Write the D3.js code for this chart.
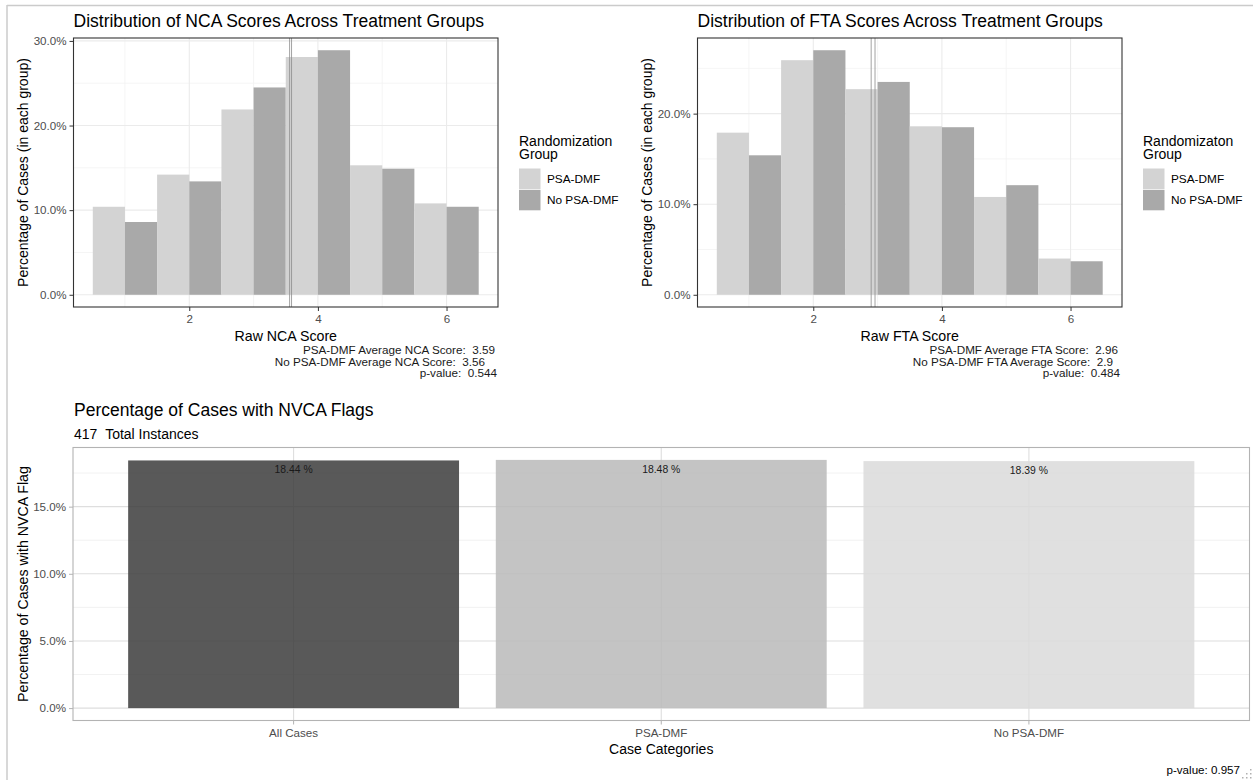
<!DOCTYPE html>
<html>
<head>
<meta charset="utf-8">
<script src="https://cdn.jsdelivr.net/npm/d3@7"></script>
<style>
  html, body { margin: 0; padding: 0; background: #ffffff; }
  svg { display: block; font-family: "Liberation Sans", Arial, sans-serif; }
</style>
</head>
<body>
<svg id="chart" width="1253" height="780"></svg>
<script>
// ---- data -------------------------------------------------------------
const scores = [1, 2, 3, 4, 5, 6];
const groups = ["PSA-DMF", "No PSA-DMF"];

// NCA score distribution, percent of cases within each group
const ncaPsaDmf   = [10.4, 14.2, 21.9, 28.1, 15.3, 10.8];
const ncaNoPsaDmf = [8.6, 13.4, 24.5, 28.9, 14.9, 10.4];
const ncaMeans    = [3.59, 3.56];
const ncaPValue   = 0.544;

// FTA score distribution, percent of cases within each group
const ftaPsaDmf   = [17.9, 25.9, 22.7, 18.6, 10.8, 4.0];
const ftaNoPsaDmf = [15.4, 27.0, 23.5, 18.5, 12.1, 3.7];
const ftaMeans    = [2.96, 2.9];
const ftaPValue   = 0.484;

// NVCA flag rates
const nvcaCategories = ["All Cases", "PSA-DMF", "No PSA-DMF"];
const nvcaPercent    = [18.44, 18.48, 18.39];
const nvcaTotal      = 417;
const nvcaPValue     = 0.957;

const histYTicksNca = [0, 10, 20, 30];
const histYTicksFta = [0, 10, 20];
const histXTicks    = [2, 4, 6];
const nvcaYTicks    = [0, 5, 10, 15];

// ---- styling ------------------------------------------------------------
const groupFill = { "PSA-DMF": "#D3D3D3", "No PSA-DMF": "#A9A9A9" };
const nvcaFill  = ["#3C3C3C", "#BABABA", "#DADADA"];
const pct = d => d.toFixed(1) + "%";
const titleSize = 17.5;

const svg = d3.select("#chart");

// outer frame
svg.append("line").attr("x1", 7).attr("x2", 1253).attr("y1", 5.5).attr("y2", 5.5)
  .attr("stroke", "#cbcbcb").attr("stroke-width", 1.5);
svg.append("line").attr("x1", 7).attr("x2", 7).attr("y1", 5).attr("y2", 780)
  .attr("stroke", "#cbcbcb").attr("stroke-width", 1.5);

function drawHistogram(opt) {
  const g = svg.append("g").attr("transform", `translate(${opt.dx},0)`);
  const left = 73.5, right = 498, top = 38, bottom = 307;
  const maxV = d3.max([...opt.psa, ...opt.noPsa]);

  const x = d3.scaleLinear().domain([0.2, 6.8]).range([left, right]);
  const y = d3.scaleLinear().domain([-0.05 * maxV, 1.05 * maxV]).range([bottom, top]);

  // minor grid
  const minorX = [1, 3, 5];
  const minorY = opt.yTicks.map(t => t + 5).filter(t => t < 1.05 * maxV);
  g.append("g").selectAll("line").data(minorX).join("line")
    .attr("x1", d => x(d)).attr("x2", d => x(d)).attr("y1", top).attr("y2", bottom)
    .attr("stroke", "#F2F2F2").attr("stroke-width", 0.8);
  g.append("g").selectAll("line").data(minorY).join("line")
    .attr("y1", d => y(d)).attr("y2", d => y(d)).attr("x1", left).attr("x2", right)
    .attr("stroke", "#F2F2F2").attr("stroke-width", 0.8);
  // major grid
  g.append("g").selectAll("line").data(histXTicks).join("line")
    .attr("x1", d => x(d)).attr("x2", d => x(d)).attr("y1", top).attr("y2", bottom)
    .attr("stroke", "#EBEBEB").attr("stroke-width", 1.1);
  g.append("g").selectAll("line").data(opt.yTicks).join("line")
    .attr("y1", d => y(d)).attr("y2", d => y(d)).attr("x1", left).attr("x2", right)
    .attr("stroke", "#EBEBEB").attr("stroke-width", 1.1);

  // dodged bars: PSA-DMF on the left half, No PSA-DMF on the right half
  const rows = [];
  scores.forEach((s, i) => {
    rows.push({ score: s, group: groups[0], v: opt.psa[i], x0: s - 0.5, x1: s });
    rows.push({ score: s, group: groups[1], v: opt.noPsa[i], x0: s, x1: s + 0.5 });
  });
  g.append("g").selectAll("rect").data(rows).join("rect")
    .attr("x", d => x(d.x0)).attr("width", d => x(d.x1) - x(d.x0))
    .attr("y", d => y(d.v)).attr("height", d => y(0) - y(d.v))
    .attr("fill", d => groupFill[d.group]);

  // group mean lines
  g.append("g").selectAll("line").data(opt.means).join("line")
    .attr("x1", d => x(d)).attr("x2", d => x(d)).attr("y1", top).attr("y2", bottom)
    .attr("stroke", "#8c8c8c").attr("stroke-width", 0.8);

  // panel border
  g.append("rect").attr("x", left).attr("y", top)
    .attr("width", right - left).attr("height", bottom - top)
    .attr("fill", "none").attr("stroke", "#333333").attr("stroke-width", 1.1);

  // axes
  const ya = g.append("g").attr("transform", `translate(${left},0)`)
    .call(d3.axisLeft(y).tickValues(opt.yTicks).tickFormat(pct).tickSize(4).tickPadding(3));
  const xa = g.append("g").attr("transform", `translate(0,${bottom})`)
    .call(d3.axisBottom(x).tickValues(histXTicks).tickFormat(d3.format("d")).tickSize(4).tickPadding(4));
  [ya, xa].forEach(a => {
    a.select(".domain").remove();
    a.selectAll(".tick line").attr("stroke", "#333333");
    a.selectAll(".tick text").attr("fill", "#4D4D4D")
      .style("font-size", "11.6px").style("font-family", "'Liberation Sans', Arial, sans-serif");
  });

  // titles
  g.append("text").attr("x", left).attr("y", 27).attr("font-size", titleSize).attr("fill", "#000")
    .text(opt.title);
  g.append("text").attr("x", (left + right) / 2).attr("y", 341).attr("text-anchor", "middle")
    .attr("font-size", 14.2).attr("fill", "#000").text(opt.xTitle);
  g.append("text").attr("transform", `translate(27.5,${(top + bottom) / 2}) rotate(-90)`)
    .attr("text-anchor", "middle").attr("font-size", 14).attr("fill", "#000")
    .text("Percentage of Cases (in each group)");

  // caption lines under the panel
  const cap = g.append("g").attr("font-size", 11.7).attr("fill", "#1a1a1a").attr("text-anchor", "end");
  opt.caption.forEach((c, i) => {
    cap.append("text").attr("x", right - c.inset).attr("y", 354 + i * 11.6).text(c.text);
  });

  // legend
  const lg = g.append("g").attr("transform", "translate(519,0)");
  lg.append("text").attr("x", 0).attr("y", 145.5).attr("font-size", 14).attr("fill", "#000")
    .text(opt.legendTitle);
  lg.append("text").attr("x", 0).attr("y", 159).attr("font-size", 14).attr("fill", "#000")
    .text("Group");
  groups.forEach((gr, i) => {
    const ky = 168.5 + i * 21.3;
    lg.append("rect").attr("x", 0).attr("y", ky).attr("width", 21.5).attr("height", 20.5)
      .attr("fill", groupFill[gr]);
    lg.append("text").attr("x", 28).attr("y", ky + 10.25).attr("dy", "0.35em")
      .attr("font-size", 11.8).attr("fill", "#000").text(gr);
  });
}

drawHistogram({
  dx: 0,
  psa: ncaPsaDmf, noPsa: ncaNoPsaDmf, means: ncaMeans, yTicks: histYTicksNca,
  title: "Distribution of NCA Scores Across Treatment Groups",
  xTitle: "Raw NCA Score",
  legendTitle: "Randomization",
  caption: [
    { text: "PSA-DMF Average NCA Score:\u00a0\u00a03.59", inset: 3 },
    { text: "No PSA-DMF Average NCA Score:\u00a0\u00a03.56", inset: 13 },
    { text: "p-value:\u00a0\u00a0" + ncaPValue, inset: 1 }
  ]
});

drawHistogram({
  dx: 624,
  psa: ftaPsaDmf, noPsa: ftaNoPsaDmf, means: ftaMeans, yTicks: histYTicksFta,
  title: "Distribution of FTA Scores Across Treatment Groups",
  xTitle: "Raw FTA Score",
  legendTitle: "Randomizaton",
  caption: [
    { text: "PSA-DMF Average FTA Score:\u00a0\u00a02.96", inset: 4 },
    { text: "No PSA-DMF FTA Average Score:\u00a0\u00a02.9", inset: 9 },
    { text: "p-value:\u00a0\u00a0" + ftaPValue, inset: 2 }
  ]
});

// ---- NVCA flag bar chart --------------------------------------------------
(function () {
  const left = 73, right = 1249.5, top = 447.5, bottom = 720.5;
  const maxV = d3.max(nvcaPercent);
  const x = d3.scaleBand().domain(nvcaCategories).range([left, right])
    .paddingInner(0.1).paddingOuter(0.15);
  const y = d3.scaleLinear().domain([-0.05 * maxV, 1.05 * maxV]).range([bottom, top]);
  const g = svg.append("g");

  const minorY = [2.5, 7.5, 12.5, 17.5];
  g.append("g").selectAll("line").data(minorY).join("line")
    .attr("y1", d => y(d)).attr("y2", d => y(d)).attr("x1", left).attr("x2", right)
    .attr("stroke", "#EDEDED").attr("stroke-width", 0.8);
  g.append("g").selectAll("line").data(nvcaYTicks).join("line")
    .attr("y1", d => y(d)).attr("y2", d => y(d)).attr("x1", left).attr("x2", right)
    .attr("stroke", "#DEDEDE").attr("stroke-width", 1.1);
  g.append("g").selectAll("line").data(nvcaCategories).join("line")
    .attr("x1", d => x(d) + x.bandwidth() / 2).attr("x2", d => x(d) + x.bandwidth() / 2)
    .attr("y1", top).attr("y2", bottom)
    .attr("stroke", "#DEDEDE").attr("stroke-width", 1.1);

  const rows = nvcaCategories.map((c, i) => ({ c, v: nvcaPercent[i], fill: nvcaFill[i] }));
  g.append("g").selectAll("rect").data(rows).join("rect")
    .attr("x", d => x(d.c)).attr("width", x.bandwidth())
    .attr("y", d => y(d.v)).attr("height", d => y(0) - y(d.v))
    .attr("fill", d => d.fill).attr("fill-opacity", 0.85);

  g.append("g").selectAll("text").data(rows).join("text")
    .attr("x", d => x(d.c) + x.bandwidth() / 2).attr("y", d => y(d.v) + 13)
    .attr("text-anchor", "middle").attr("font-size", 10.4).attr("fill", "#1a1a1a")
    .text(d => d.v.toFixed(2) + " %");

  g.append("rect").attr("x", left).attr("y", top)
    .attr("width", right - left).attr("height", bottom - top)
    .attr("fill", "none").attr("stroke", "#B3B3B3").attr("stroke-width", 1.1);

  const ya = g.append("g").attr("transform", `translate(${left},0)`)
    .call(d3.axisLeft(y).tickValues(nvcaYTicks).tickFormat(pct).tickSize(4).tickPadding(3));
  const xa = g.append("g").attr("transform", `translate(0,${bottom})`)
    .call(d3.axisBottom(x).tickSize(4).tickPadding(4));
  [ya, xa].forEach(a => {
    a.select(".domain").remove();
    a.selectAll(".tick line").attr("stroke", "#B3B3B3");
    a.selectAll(".tick text").attr("fill", "#4D4D4D")
      .style("font-size", "11.6px").style("font-family", "'Liberation Sans', Arial, sans-serif");
  });

  g.append("text").attr("x", left + 1).attr("y", 415.5).attr("font-size", titleSize).attr("fill", "#000")
    .text("Percentage of Cases with NVCA Flags");
  g.append("text").attr("x", left + 1).attr("y", 438.5).attr("font-size", 14).attr("fill", "#000")
    .text(nvcaTotal + "\u00a0\u00a0Total Instances");
  g.append("text").attr("x", (left + right) / 2).attr("y", 754).attr("text-anchor", "middle")
    .attr("font-size", 14).attr("fill", "#000").text("Case Categories");
  g.append("text").attr("transform", `translate(27.5,${(top + bottom) / 2}) rotate(-90)`)
    .attr("text-anchor", "middle").attr("font-size", 14.2).attr("fill", "#000")
    .text("Percentage of Cases with NVCA Flag");
  g.append("text").attr("x", 1240).attr("y", 774).attr("text-anchor", "end")
    .attr("font-size", 11.6).attr("fill", "#000").text("p-value: " + nvcaPValue);

  // window resize grip
  const grip = [[1250, 777], [1246, 777], [1250, 773], [1242, 777], [1246, 773], [1250, 769]];
  svg.append("g").selectAll("rect").data(grip).join("rect")
    .attr("x", d => d[0]).attr("y", d => d[1]).attr("width", 1.5).attr("height", 1.5)
    .attr("fill", "#b0b0b0");
})();
</script>
</body>
</html>
